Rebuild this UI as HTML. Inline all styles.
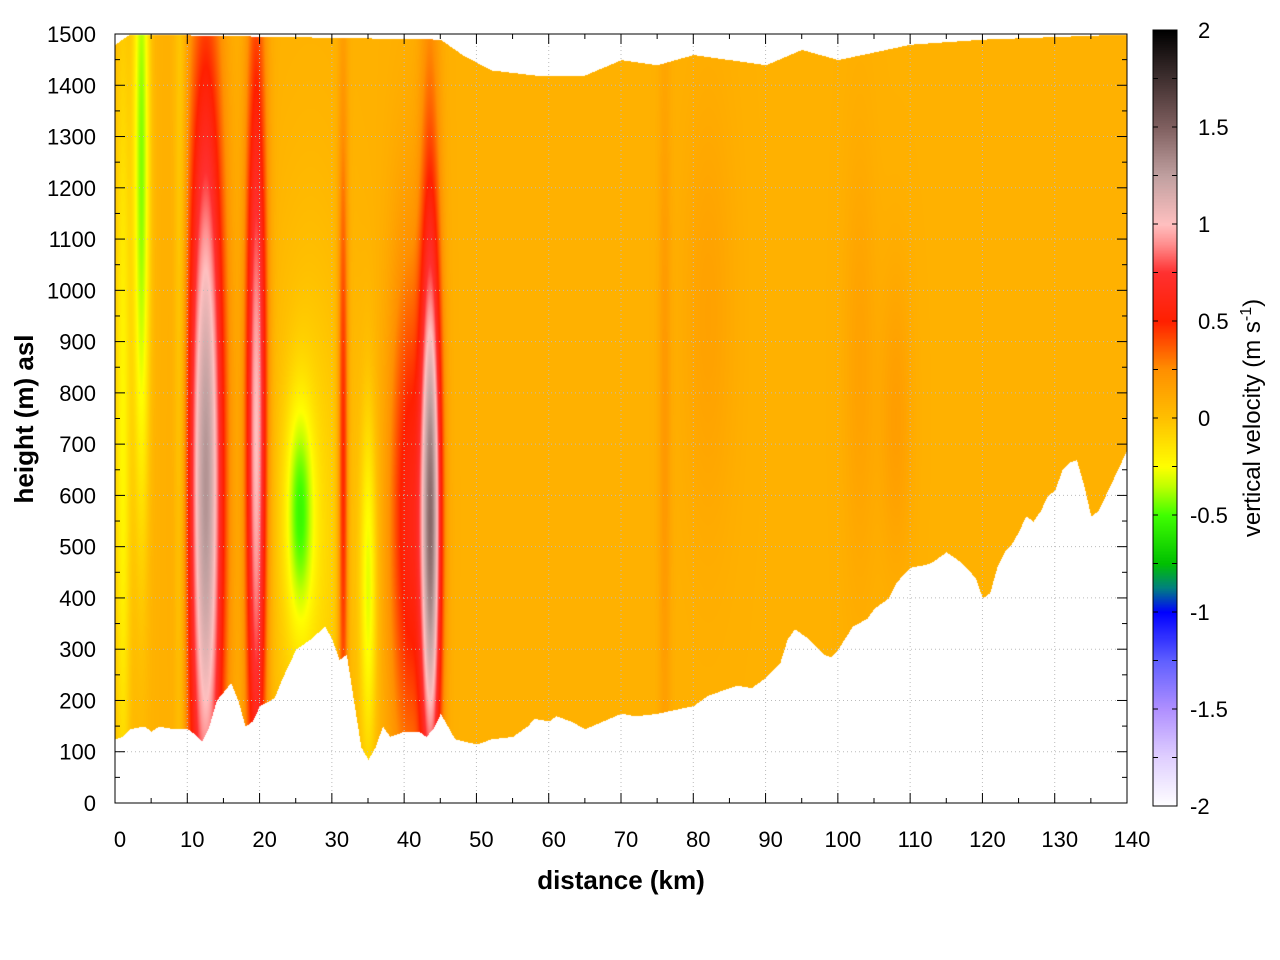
<!DOCTYPE html>
<html><head><meta charset="utf-8">
<style>
body{margin:0;background:#fff;font-family:"Liberation Sans",sans-serif;}
#wrap{position:relative;width:1280px;height:960px;}
canvas{position:absolute;left:0;top:0;}
svg{position:absolute;left:0;top:0;}
text{font-family:"Liberation Sans",sans-serif;}
</style></head><body>
<div id="wrap">
<canvas id="cv" width="1280" height="960"></canvas>
<svg id="sv" width="1280" height="960"></svg>
</div>
<script>
// ---- data ----
const groundKm=[0,1,2,4,5,6,8,10,11,12,13,14,16,17,18,19,20,22,23,25,27,29,30,31,32,33,34,35,36,37,38,40,42,43,44,45,46,47,50,52,55,57,58,60,61,63,65,70,72,75,80,82,85,86,88,90,92,93,94,96,98,99,100,102,104,105,107,108,110,112,113,115,117,119,120,121,122,123,124,125,126,127,128,129,130,131,132,133,134,135,136,137,138,139,140];
const groundM=[125,130,145,150,140,150,145,145,135,120,150,200,235,200,150,160,190,205,240,300,320,345,320,280,290,200,110,85,110,150,130,140,140,130,145,175,150,125,115,125,130,150,165,160,170,160,145,175,170,175,190,210,225,230,225,245,275,320,340,320,290,285,300,345,360,380,400,430,460,465,470,490,470,440,400,410,460,490,505,530,560,550,570,600,610,650,665,670,620,560,570,600,630,660,690];
const topKm=[0,2,45,48,52,58,65,70,75,80,85,90,95,100,110,120,140];
const topM=[1480,1500,1490,1460,1430,1420,1420,1450,1440,1460,1450,1440,1470,1450,1480,1490,1500];
const background=0.08;
const blobKm=[12.5,19.5,43.7,40.5,43.5,31.5,3.6,25.5,27,1,35,9,76,108,103,82];
const blobM=[620,700,520,550,700,600,1250,570,500,700,420,800,700,750,850,950];
const blobSx=[1.7,1.0,1.0,1.8,1.0,0.5,0.8,1.3,4,0.8,0.8,0.6,0.6,1.5,1.5,2.5];
const blobSy=[560,550,350,350,550,500,500,150,400,600,250,800,600,200,300,300];
const blobAmp=[1.22,0.95,0.85,0.5,0.45,0.5,-0.5,-0.42,-0.2,-0.3,-0.35,-0.2,0.12,0.1,0.08,0.08];
const cbVals=[-2,-1.75,-1.5,-1.25,-1,-0.875,-0.75,-0.5,-0.35,-0.25,0,0.25,0.5,0.75,0.9,1,1.25,1.5,2];
const cbCols=['#ffffff','#e0d0ff','#b090ff','#6060ff','#0000ff','#008080','#00c000','#40ff00','#c0ff00','#ffff00','#ffc000','#ff9000','#ff2000','#ff3030','#ff9090','#ffc0c0','#c0a0a0','#806060','#000000'];
const xTicks=[0,10,20,30,40,50,60,70,80,90,100,110,120,130,140];
const yTicks=[0,100,200,300,400,500,600,700,800,900,1000,1100,1200,1300,1400,1500];
const cTicks=[-2,-1.5,-1,-0.5,0,0.5,1,1.5,2];
// ---- scales ----
const X0=115,X1=1127,Y0=803,Y1=34;
const sx=k=>X0+(X1-X0)*k/140, sy=m=>Y0-(Y0-Y1)*m/1500;
const CB={x:1153,w:24,y0:806,y1:30};
const cy=v=>CB.y0-(CB.y0-CB.y1)*(v+2)/4;
function interp(xs,ys,x){for(let i=1;i<xs.length;i++){if(x<=xs[i]){const t=(x-xs[i-1])/(xs[i]-xs[i-1]);return ys[i-1]+t*(ys[i]-ys[i-1]);}}return ys[ys.length-1];}
function hex(c){return [parseInt(c.slice(1,3),16),parseInt(c.slice(3,5),16),parseInt(c.slice(5,7),16)];}
const cbRGB=cbCols.map(hex);
function cmap(v){v=Math.max(-2,Math.min(2,v));for(let i=1;i<cbVals.length;i++){if(v<=cbVals[i]){const t=(v-cbVals[i-1])/(cbVals[i]-cbVals[i-1]);const a=cbRGB[i-1],b=cbRGB[i];return [a[0]+t*(b[0]-a[0]),a[1]+t*(b[1]-a[1]),a[2]+t*(b[2]-a[2])];}}return cbRGB[cbRGB.length-1];}
function field(k,m){let v=background;for(let i=0;i<blobKm.length;i++){const dx=(k-blobKm[i])/blobSx[i],dy=(m-blobM[i])/blobSy[i];v+=blobAmp[i]*Math.exp(-0.5*(dx*dx+dy*dy));}return v;}
// ---- draw field ----
const ctx=document.getElementById('cv').getContext('2d');
const img=ctx.createImageData(1280,960);
for(let px=X0;px<X1;px++){const k=(px-X0)/(X1-X0)*140;const g=sy(interp(groundKm,groundM,k)),t=sy(interp(topKm,topM,k));
 for(let py=Math.ceil(t);py<g&&py<Y0;py++){const m=(Y0-py)/(Y0-Y1)*1500;const c=cmap(field(k,m));const o=(py*1280+px)*4;img.data[o]=c[0];img.data[o+1]=c[1];img.data[o+2]=c[2];img.data[o+3]=255;}}
for(let py=CB.y1;py<CB.y0;py++){const c=cmap((CB.y0-py)/(CB.y0-CB.y1)*4-2);for(let px=CB.x;px<CB.x+CB.w;px++){const o=(py*1280+px)*4;img.data[o]=c[0];img.data[o+1]=c[1];img.data[o+2]=c[2];img.data[o+3]=255;}}
ctx.putImageData(img,0,0);
// ---- axes ----
const sv=document.getElementById('sv');const NS='http://www.w3.org/2000/svg';
function el(t,a,txt){const e=document.createElementNS(NS,t);for(const k in a)e.setAttribute(k,a[k]);if(txt!==undefined)e.textContent=txt;sv.appendChild(e);return e;}
xTicks.forEach(v=>{const x=sx(v);
 const g=el('line',{x1:x,x2:x,y1:Y1,y2:Y0,stroke:'#bbb','stroke-dasharray':'1,3','stroke-width':1});
 
 el('line',{x1:x,x2:x,y1:Y0,y2:Y0-10,stroke:'#000'});el('line',{x1:x,x2:x,y1:Y1,y2:Y1+10,stroke:'#000'});
 const t=el('text',{x:x+5,y:847,'font-size':22,'text-anchor':'middle'},v);
 });
for(let v=5;v<140;v+=10){const x=sx(v);el('line',{x1:x,x2:x,y1:Y0,y2:Y0-5,stroke:'#000'});el('line',{x1:x,x2:x,y1:Y1,y2:Y1+5,stroke:'#000'});}
yTicks.forEach(v=>{const y=sy(v);
 const g=el('line',{x1:X0,x2:X1,y1:y,y2:y,stroke:'#bbb','stroke-dasharray':'1,3','stroke-width':1});
 
 el('line',{x1:X0,x2:X0+10,y1:y,y2:y,stroke:'#000'});el('line',{x1:X1,x2:X1-10,y1:y,y2:y,stroke:'#000'});
 const t=el('text',{x:96,y:y+8,'font-size':22,'text-anchor':'end'},v);
 });
for(let v=50;v<1500;v+=100){const y=sy(v);el('line',{x1:X0,x2:X0+5,y1:y,y2:y,stroke:'#000'});el('line',{x1:X1,x2:X1-5,y1:y,y2:y,stroke:'#000'});}
const fr=el('rect',{x:X0,y:Y1,width:X1-X0,height:Y0-Y1,fill:'none',stroke:'#000'});

const cbr=el('rect',{x:CB.x,y:CB.y1,width:CB.w,height:CB.y0-CB.y1,fill:'none',stroke:'#000'});

for(let v=-2;v<=2.001;v+=0.25){const y=cy(v);el('line',{x1:CB.x,x2:CB.x+5,y1:y,y2:y,stroke:'#000'});el('line',{x1:CB.x+CB.w,x2:CB.x+CB.w-5,y1:y,y2:y,stroke:'#000'});}
cTicks.forEach(v=>{const t=el('text',{x:v<0?1190:1198,y:cy(v)+8,'font-size':22},v);});
const xt=el('text',{x:621,y:889,'font-size':26,'font-weight':'bold','text-anchor':'middle'},'distance (km)');

const yt=el('text',{x:0,y:0,'font-size':26,'font-weight':'bold','text-anchor':'middle',transform:'translate(33,419) rotate(-90)'},'height (m) asl');

const ct=el('text',{x:0,y:0,'font-size':24,'text-anchor':'middle',transform:'translate(1260,418) rotate(-90)'});

ct.innerHTML='vertical velocity (m s<tspan dy="-9" font-size="16">-1</tspan><tspan dy="9">)</tspan>';
</script>
</body></html>
